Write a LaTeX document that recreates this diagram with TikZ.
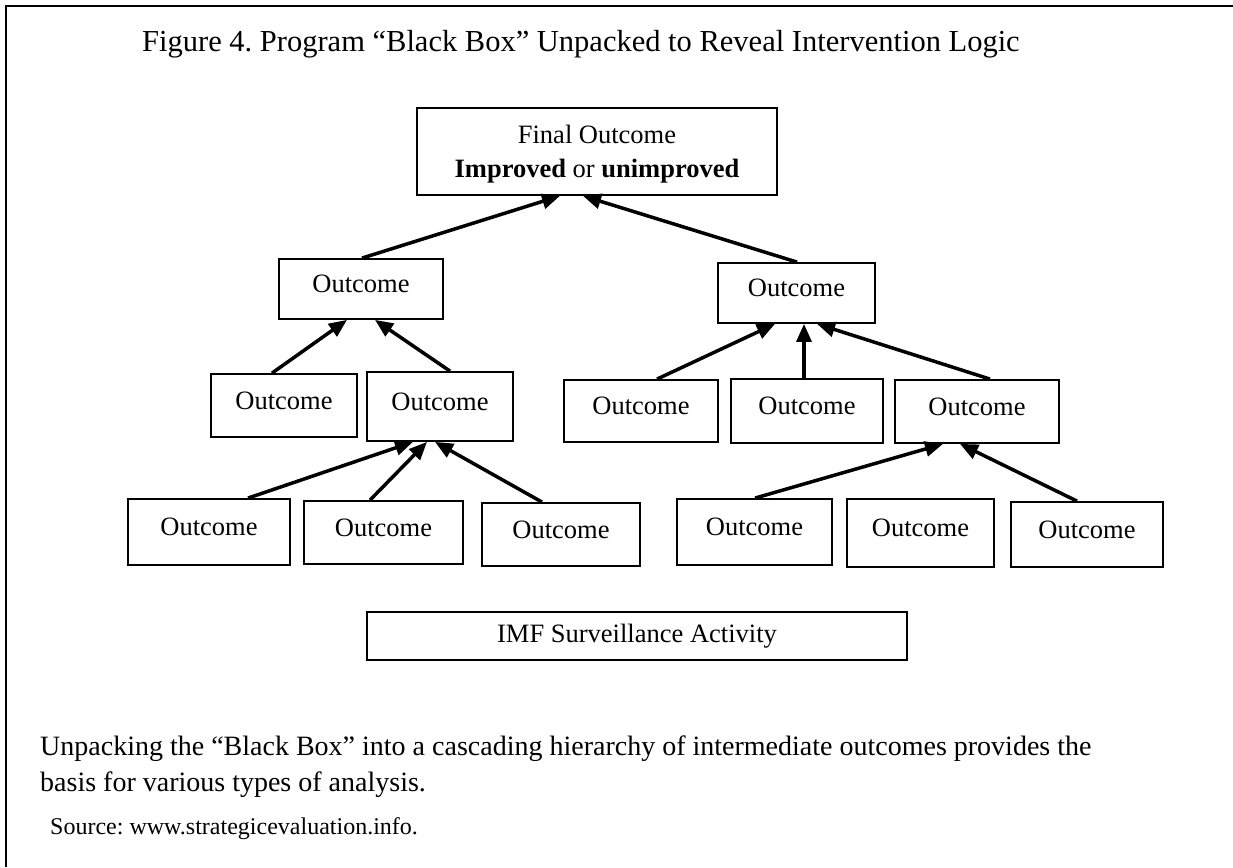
\documentclass[tikz,border=0pt]{standalone}
\usepackage{fontspec}
\setmainfont{Liberation Serif}
\usetikzlibrary{arrows.meta}
\frenchspacing

\begin{document}
\begin{tikzpicture}[x=1pt,y=-1pt,
  box/.style={draw, line width=1.8pt, inner sep=0pt, text depth=10pt,
    font=\fontsize{26.5}{34}\selectfont},
  plainbox/.style={draw, line width=1.8pt, inner sep=0pt, align=center,
    font=\fontsize{26.5}{34}\selectfont},
  arr/.style={line width=3.5pt, -{Triangle[length=18pt,width=15pt]}},
  frame/.style={line width=2.6pt}]

\useasboundingbox (0,0) rectangle (1233,867);

% page frame (top and left rules)
\coordinate (ftl) at (6,6);
\coordinate (ftr) at (1233,6);
\coordinate (fbl) at (6,867);
\draw[frame] (ftr) -- (ftl) -- (fbl);

% heading
\node[anchor=base west, inner sep=0pt, font=\fontsize{30.5}{36}\selectfont] (title) at (142,52)
  {Figure 4. Program “Black Box” Unpacked to Reveal Intervention Logic};

% final outcome
\node[plainbox, minimum width=360pt, minimum height=87pt, text depth=0pt] (fin) at (597,151.5)
  {Final Outcome\\\textbf{Improved} or \textbf{unimproved}};

% second level
\node[box, minimum width=164pt, minimum height=60pt] (l2l) at (361,289) {Outcome};
\node[box, minimum width=157pt, minimum height=60pt] (l2r) at (796.5,293) {Outcome};

% third level
\node[box, minimum width=146pt, minimum height=63pt] (ba) at (284,405.5) {Outcome};
\node[box, minimum width=146pt, minimum height=69pt] (bb) at (440,406.5) {Outcome};
\node[box, minimum width=154pt, minimum height=62pt] (bc) at (641,411) {Outcome};
\node[box, minimum width=152pt, minimum height=64pt] (bd) at (807,411) {Outcome};
\node[box, minimum width=164pt, minimum height=63pt] (be) at (977,411.5) {Outcome};

% fourth level
\node[box, minimum width=162pt, minimum height=66pt] (p1) at (209,532) {Outcome};
\node[box, minimum width=159pt, minimum height=63pt] (p2) at (383.5,532.5) {Outcome};
\node[box, minimum width=158pt, minimum height=63pt] (p3) at (561,534.5) {Outcome};
\node[box, minimum width=155pt, minimum height=66pt] (q1) at (754.5,532) {Outcome};
\node[box, minimum width=147pt, minimum height=68pt] (q2) at (920.5,533) {Outcome};
\node[box, minimum width=152pt, minimum height=65pt] (q3) at (1087,534.5) {Outcome};

% activity
\node[plainbox, minimum width=540pt, minimum height=48pt] (imf) at (637,636)
  {IMF Surveillance Activity};

% connectors
\draw[arr] ([xshift=1pt]l2l.north) -- ([xshift=-37pt]fin.south);
\draw[arr] ([xshift=0.5pt]l2r.north) -- ([xshift=-14pt]fin.south);

\draw[arr] ([xshift=-12pt]ba.north) -- ([xshift=-14pt]l2l.south);
\draw[arr] ([xshift=10pt]bb.north) -- ([xshift=14pt]l2l.south);

\draw[arr] ([xshift=16pt]bc.north) -- ([xshift=-21.5pt]l2r.south);
\draw[arr] ([xshift=-3pt]bd.north) -- ([xshift=7.5pt]l2r.south);
\draw[arr] ([xshift=13pt]be.north) -- ([xshift=20.5pt]l2r.south);

\draw[arr] ([xshift=39pt]p1.north) -- ([xshift=-27pt]bb.south);
\draw[arr] ([xshift=-13.5pt]p2.north) -- ([xshift=-13pt]bb.south);
\draw[arr] ([xshift=-19pt]p3.north) -- ([xshift=-5pt]bb.south);

\draw[arr] ([xshift=0.5pt]q1.north) -- ([xshift=-34pt]be.south);
\draw[arr] ([xshift=-10pt]q3.north) -- ([xshift=-17pt]be.south);

% notes
\node[anchor=north west, inner sep=0pt, align=left, font=\fontsize{28}{36}\selectfont] (note) at (40,736)
  {Unpacking the “Black Box” into a cascading hierarchy of intermediate outcomes provides the\\
   basis for various types of analysis.};
\node[anchor=base west, inner sep=0pt, font=\fontsize{24}{28}\selectfont] (src) at (50,834)
  {Source: www.strategicevaluation.info.};
\end{tikzpicture}
\end{document}
